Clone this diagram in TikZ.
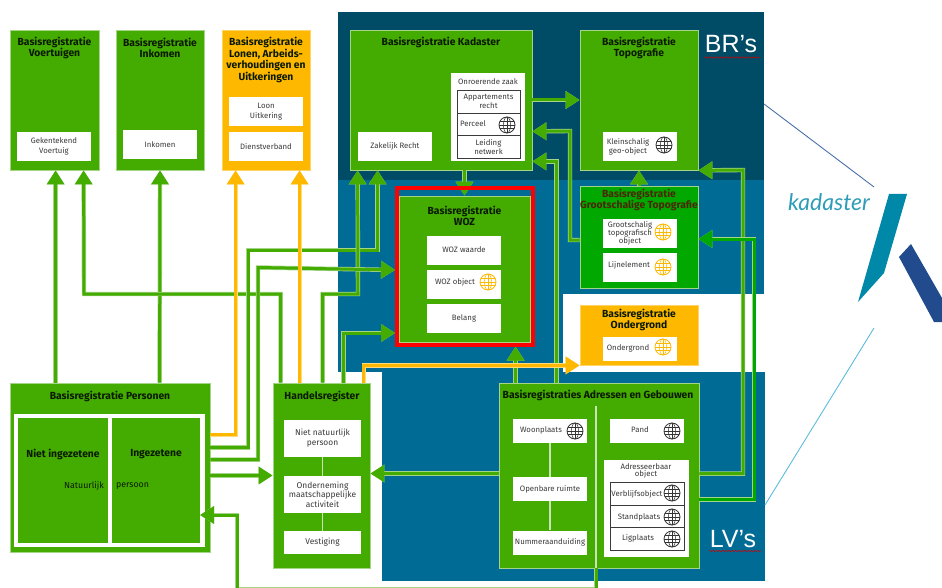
\documentclass[tikz,border=0pt]{standalone}
\usepackage{fontspec}
\usepackage{tikz}
\usetikzlibrary{arrows.meta,decorations.pathmorphing}
\setmainfont{Fira Sans}
\newfontfamily\logofont{Lato}
\newfontfamily\markfont{Liberation Sans}

\definecolor{regdark}{HTML}{004C66}
\definecolor{regblue}{HTML}{006C96}
\definecolor{reggreen}{HTML}{44AB00}
\definecolor{regbright}{HTML}{00A800}
\definecolor{regorange}{HTML}{FFB800}
\definecolor{regpale}{HTML}{A4D488}
\definecolor{regtext}{HTML}{3A3A3A}
\definecolor{logoteal}{HTML}{0088A8}
\definecolor{logotext}{HTML}{2F9DB8}
\definecolor{logoblue}{HTML}{214B8C}
\definecolor{logoline}{HTML}{4A70A8}
\definecolor{logolight}{HTML}{5BBDDB}

\tikzset{
	backblock/.style={anchor=north west,inner sep=0pt,outer sep=0pt},
	regbox/.style={draw=regpale,line width=0.8pt,fill=reggreen,inner sep=0pt},
	topobox/.style={regbox,fill=regbright},
	orangebox/.style={draw=regorange!60,line width=0.8pt,fill=regorange,inner sep=0pt},
	whitebox/.style={fill=white,inner sep=0pt,minimum width=74pt,minimum height=29pt,align=center,text=regtext,font=\fontsize{7.8}{9.4}\selectfont},
	cellbox/.style={whitebox,draw=regtext,line width=0.7pt,minimum width=63pt,minimum height=23pt,font=\fontsize{7.8}{6.8}\selectfont},
	regtitle/.style={align=center,inner sep=0pt,text=black!85!reggreen,font=\fontsize{10.3}{11.7}\selectfont\bfseries},
	celltext/.style={align=center,inner sep=0pt,text=regtext,font=\fontsize{7.8}{8}\selectfont},
	brmark/.style={inner sep=0pt,text=white,font=\fontsize{25}{25}\selectfont\markfont},
	squiggle/.style={draw=red!80!black,line width=0.5pt,decorate,decoration={snake,amplitude=0.7pt,segment length=3.2pt}},
	garrow/.style={preaction={draw=regpale,line width=4.4pt},draw=reggreen,line width=3pt,-{Triangle[length=14pt,width=17pt]}},
	barrow/.style={preaction={draw=regpale,line width=4.4pt},draw=regbright,line width=3pt,-{Triangle[length=14pt,width=17pt]}},
	oarrow/.style={preaction={draw=regorange!50,line width=4.2pt},draw=regorange,line width=3pt,-{Triangle[length=14pt,width=17pt]}},
	link/.style={draw=regpale!60!white,line width=1.2pt},
}

\newcommand{\drawglobe}[3]{
	\draw[#3,line width=0.8pt,fill=white] (#1,#2) circle (8pt);
	\draw[#3,line width=0.5pt] (#1,#2) ellipse (3.6pt and 8pt);
	\draw[#3,line width=0.5pt] (#1,#2-8) -- (#1,#2+8);
	\draw[#3,line width=0.5pt] (#1-8,#2) -- (#1+8,#2);
	\draw[#3,line width=0.5pt] (#1-7,#2-3.6) -- (#1+7,#2-3.6);
	\draw[#3,line width=0.5pt] (#1-7,#2+3.6) -- (#1+7,#2+3.6);
}

\begin{document}
\begin{tikzpicture}[x=1pt,y=-1pt]

	\useasboundingbox (0,0) rectangle (942,588);

	% achtergrond
	\node[backblock,fill=regdark,minimum width=426pt,minimum height=168pt] (brback) at (338,12) {};
	\node[backblock,fill=regblue,minimum width=426pt,minimum height=114pt] (midback) at (338,180) {};
	\node[backblock,fill=regblue,minimum width=225pt,minimum height=78pt] (gapback) at (338,294) {};
	\node[backblock,fill=regblue,minimum width=383pt,minimum height=209pt] (lvback) at (382,372) {};

	\node[brmark] (brs) at (731,44) {BR’s};
	\node[brmark] (lvs) at (733,539) {LV’s};
	\path[squiggle] (704,57.5) -- (760,57.5);
	\path[squiggle] (709,551) -- (761,551);

	% bovenste rij
	\node[regbox,minimum width=89pt,minimum height=140pt] (voert) at (54.5,100) {};
	\node[regtitle] (voertt) at (54.5,48) {Basisregistratie\\Voertuigen};
	\node[whitebox] (voertw) at (54,146.5) {Gekentekend\\Voertuig};

	\node[regbox,minimum width=88pt,minimum height=140pt] (ink) at (160,100) {};
	\node[regtitle] (inkt) at (160,48) {Basisregistratie\\Inkomen};
	\node[whitebox] (inkw) at (160,145) {Inkomen};

	\node[orangebox,minimum width=88pt,minimum height=140pt] (lonen) at (266,100) {};
	\node[regtitle] (lonent) at (266,60) {Basisregistratie\\Lonen, Arbeids-\\verhoudingen en\\Uitkeringen};
	\node[whitebox] (loon) at (266,111.5) {Loon\\Uitkering};
	\node[whitebox] (dienst) at (266,146.5) {Dienstverband};

	\node[regbox,minimum width=182pt,minimum height=140pt] (kad) at (441,100) {};
	\node[regtitle] (kadt) at (441,42) {Basisregistratie Kadaster};
	\node[whitebox] (zakelijk) at (395,146.5) {Zakelijk Recht};
	\node[whitebox,minimum height=88pt] (onroerend) at (488,117) {};
	\node[celltext] (onroerendt) at (488,82) {Onroerende zaak};
	\node[cellbox] (appart) at (488.5,101.5) {Appartements\\recht};
	\node[cellbox] (perceel) at (488.5,124.5) {};
	\node[celltext] (perceelt) at (473,124) {Perceel};
	\drawglobe{507}{125}{black!80}
	\node[cellbox] (leiding) at (488.5,147) {Leiding\\netwerk};

	\node[regbox,minimum width=118pt,minimum height=140pt] (topo) at (639,100) {};
	\node[regtitle] (topot) at (639,48) {Basisregistratie\\Topografie};
	\node[whitebox] (klein) at (639.5,146.5) {};
	\node[celltext,font=\fontsize{7.8}{9.4}\selectfont] (kleint) at (628,147) {Kleinschalig\\geo-object};
	\drawglobe{664}{145}{black!80}

	% midden
	\node[topobox,minimum width=118pt,minimum height=102pt] (groot) at (639,237) {};
	\node[regtitle,text=black!70!orange] (groott) at (639,200) {Basisregistratie\\Grootschalige Topografie};
	\node[whitebox] (grootw) at (639.5,233.5) {};
	\node[celltext] (grootwt) at (630,233) {Grootschalig\\topografisch\\object};
	\drawglobe{663}{232}{regorange}
	\node[whitebox] (lijn) at (639.5,267.5) {};
	\node[celltext] (lijnt) at (629,265) {Lijnelement};
	\drawglobe{663}{267}{regorange}

	\node[regbox,minimum width=131pt,minimum height=146pt] (woz) at (464.5,269) {};
	\node[regtitle] (wozt) at (464.5,216) {Basisregistratie\\WOZ};
	\node[whitebox] (wozw) at (464,250) {WOZ waarde};
	\node[whitebox] (wozo) at (464,284) {};
	\node[celltext] (wozot) at (455,282) {WOZ object};
	\drawglobe{488}{282}{regorange}
	\node[whitebox] (belang) at (464,318) {Belang};

	\node[orangebox,minimum width=118pt,minimum height=60pt] (onder) at (639,335) {};
	\node[regtitle] (ondert) at (639,320) {Basisregistratie\\Ondergrond};
	\node[whitebox,minimum height=24pt] (onderw) at (639.5,349) {};
	\node[celltext] (onderwt) at (628,348) {Ondergrond};
	\drawglobe{663}{347}{regorange}

	% onderste rij
	\node[regbox,minimum width=200pt,minimum height=169pt] (pers) at (110,467.5) {};
	\node[regtitle] (perst) at (110,396) {Basisregistratie Personen};
	\node[fill=white,inner sep=0pt,minimum width=191pt,minimum height=133pt] (persw) at (109.5,480.5) {};
	\node[regbox,draw=none,minimum width=90pt,minimum height=125pt] (niet) at (63,480.5) {};
	\node[regbox,draw=none,minimum width=88pt,minimum height=125pt] (inge) at (156,480.5) {};
	\node[regtitle] (nietw) at (63,454) {Niet ingezetene};
	\node[regtitle] (ingew) at (156,454) {Ingezetene};
	\node[celltext,text=black!85!reggreen,font=\fontsize{8.8}{10}\selectfont,anchor=east] (natuur) at (104,486) {Natuurlijk};
	\node[celltext,text=black!85!reggreen,font=\fontsize{8.8}{10}\selectfont,anchor=west] (persoon) at (116,486) {persoon};

	\node[regbox,minimum width=97pt,minimum height=185pt] (hr) at (321.5,475.5) {};
	\node[regtitle] (hrt) at (322,396) {Handelsregister};
	\node[whitebox,minimum width=77pt,minimum height=37pt,font=\fontsize{8.4}{10}\selectfont] (hrn) at (322.5,438.5) {Niet natuurlijk\\persoon};
	\node[whitebox,minimum width=77pt,minimum height=37pt,font=\fontsize{8.4}{9.5}\selectfont] (hro) at (322.5,494.5) {Onderneming\\maatschappelijke\\activiteit};
	\node[whitebox,minimum width=77pt,minimum height=23pt,font=\fontsize{8.4}{10}\selectfont] (hrv) at (322.5,542.5) {Vestiging};
	\draw[link] (hrn) -- (hro);
	\draw[link] (hro) -- (hrv);

	\node[regbox,minimum width=200pt,minimum height=185pt] (bag) at (599,475.5) {};
	\node[regtitle] (bagt) at (598,395) {Basisregistraties Adressen en Gebouwen};
	\coordinate (bagtop) at (596,406);
	\draw[link] (bagtop) -- ([xshift=-3pt]bag.south);
	\node[whitebox,minimum height=24pt] (woon) at (550,431) {};
	\node[celltext] (woont) at (541,430) {Woonplaats};
	\drawglobe{575}{431}{black!80}
	\node[whitebox,minimum height=24pt] (openb) at (550,489) {Openbare ruimte};
	\node[whitebox,minimum height=24pt] (nummer) at (550,542.5) {Nummeraanduiding};
	\draw[link] (woon) -- (openb);
	\draw[link] (openb) -- (nummer);
	\node[whitebox,minimum height=24pt] (pand) at (647,431) {};
	\node[celltext] (pandt) at (640,430) {Pand};
	\drawglobe{672}{431}{black!80}
	\node[whitebox,minimum width=85pt,minimum height=97pt] (adres) at (646.5,508.5) {};
	\node[celltext,font=\fontsize{7.8}{6.8}\selectfont] (adrest) at (646,471) {Adresseerbaar\\object};
	\node[cellbox,minimum width=74pt] (verblijf) at (647,494) {};
	\node[cellbox,minimum width=74pt] (stand) at (647,516.5) {};
	\node[cellbox,minimum width=74pt] (lig) at (647,539) {};
	\node[celltext] (verblijft) at (637,494) {Verblijfsobject};
	\node[celltext] (standt) at (639,517) {Standplaats};
	\node[celltext] (ligt) at (638,538) {Ligplaats};
	\drawglobe{672}{493}{black!80}
	\drawglobe{672}{517}{black!80}
	\drawglobe{672}{539}{black!80}

	% verbindingen
	\coordinate (persin) at (200,515);
	\draw[garrow] ([xshift=46pt]pers.north west) -- ([xshift=46pt]voert.south west);
	\draw[garrow] ([xshift=150pt]pers.north west) -- (ink.south);
	\draw[garrow] ([xshift=8pt]hr.north west) |- (84,294) -- ([xshift=74pt]voert.south west);
	\draw[garrow] ([yshift=-65pt]pers.north east) -| (248,250) -| ([xshift=28pt]kad.south west);
	\draw[garrow] ([xshift=50pt]hr.north west) |- (358,294) -- ([xshift=8pt]kad.south west);
	\draw[garrow] ([yshift=-77pt]pers.north east) -| (258,267.5) -- ([yshift=-1pt]woz.west -| 395,0);
	\draw[garrow] ([xshift=71pt]hr.north west) |- (395,333);
	\draw[garrow] (hr.west -| pers.east) -- (hr.west);
	\draw[garrow] ([yshift=2pt]hr.east -| bag.west) -- ([yshift=2pt]hr.east);
	\draw[garrow] ([xshift=17pt]bag.north west) -- ([xshift=17pt,yshift=36pt]bag.north west);
	\draw[garrow] ([xshift=58pt]bag.north west) |- ([yshift=9pt]kad.south east);
	\draw[garrow] ([yshift=-3pt]groot.west) -| (570,131) -- ([yshift=39pt]kad.south east);
	\draw[garrow] (kad.east) -- (topo.west);
	\draw[garrow] (kad.south -| woz.north) -- (woz.north);
	\draw[garrow] (groot.north) -- (topo.south);
	\draw[garrow] ([yshift=-91pt]bag.north east) -| (743,170) -- (topo.south east);
	\draw[barrow] ([yshift=-117pt]bag.north east) -| (754,239) -- ([yshift=-2pt]groot.east);
	\draw[garrow] ([xshift=-3pt]bag.south) |- (237,589.5) |- (persin);
	\draw[oarrow] ([yshift=-52pt]pers.north east) -| ([xshift=14pt]lonen.south west);
	\draw[oarrow] ([xshift=27pt]hr.north west) -- ([xshift=78pt]lonen.south west);
	\draw[oarrow] ([xshift=91pt]hr.north west) |- (onder.south west);

	% rood kader
	\node[draw=red,line width=4pt,inner sep=0pt,minimum width=136pt,minimum height=157pt] (frame) at (465,266.5) {};

	% logo
	\node[inner sep=0pt,text=logotext,font=\fontsize{23}{23}\selectfont\logofont\itshape] (logotext) at (829,202) {kadaster};
	\fill[fill=logoteal] (889,194) -- (907,194) -- (884,273) -- (858,302) -- cycle;
	\fill[fill=logoblue] (911,244) -- (899,257) -- (934,322) -- (942,322) -- (942,298) -- cycle;
	\draw[draw=logoline,line width=0.9pt] (764,104) -- (874,187);
	\draw[draw=logolight,line width=0.9pt] (874,328) -- (765,505);

\end{tikzpicture}
\end{document}
